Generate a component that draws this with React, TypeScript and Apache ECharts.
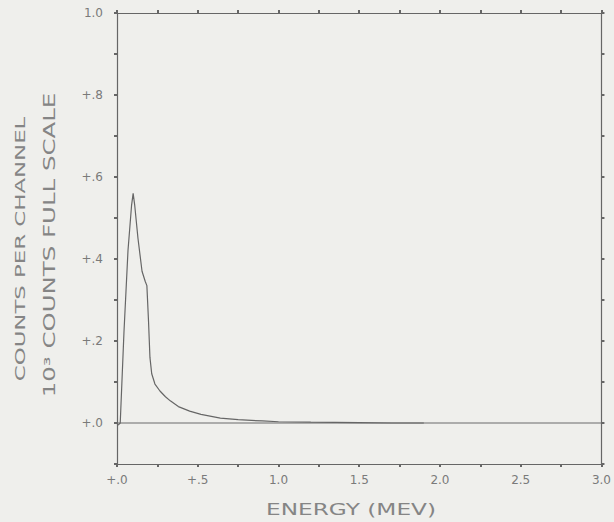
import React, { useEffect, useRef } from "react";
import * as echarts from "echarts";

const energy = [0.0, 0.01, 0.02, 0.043, 0.068, 0.09, 0.1, 0.11, 0.13, 0.155, 0.175, 0.185, 0.195, 0.204, 0.215, 0.235, 0.266, 0.3, 0.33, 0.38, 0.45, 0.52, 0.64, 0.75, 0.9, 1.0, 1.2, 1.5, 1.7, 1.9];
const counts = [-0.005, -0.004, 0.0, 0.22, 0.42, 0.53, 0.56, 0.53, 0.45, 0.37, 0.345, 0.335, 0.25, 0.16, 0.12, 0.095, 0.078, 0.064, 0.054, 0.04, 0.029, 0.021, 0.012, 0.008, 0.005, 0.003, 0.002, 0.001, 0.0, 0.0];
const xLabels = ["+.0", "+.5", "1.0", "1.5", "2.0", "2.5", "3.0"];
const yLabels = ["+.0", "+.2", "+.4", "+.6", "+.8", "1.0"];
const yTitleOuter = "COUNTS PER CHANNEL";
const yTitleInner = "10³ COUNTS FULL SCALE";
const xTitle = "ENERGY (MEV)";

const LINE = "#666";
const TEXT = "#7a7a7a";
const TITLE = "#858585";
const FONT = "'DejaVu Sans', sans-serif";

export default function App() {
  const ref = useRef<HTMLDivElement>(null);
  useEffect(() => {
    if (!ref.current) return;
    const chart = echarts.init(ref.current, undefined, { renderer: "svg" });
    const near = (v: number, t: number) => Math.abs(v - t) < 1e-6;
    const xFmt = (v: number) => {
      for (let i = 0; i < xLabels.length; i++) if (near(v, i * 0.5)) return xLabels[i];
      return "";
    };
    const yFmt = (v: number) => {
      for (let i = 0; i < yLabels.length; i++) if (near(v, i * 0.2)) return yLabels[i];
      return "";
    };
    const tick = { show: true, length: 3, inside: false, lineStyle: { color: LINE, width: 2 } };
    const axisLine = { show: true, onZero: false, lineStyle: { color: LINE, width: 1.2 } };
    chart.setOption({
      animation: false,
      backgroundColor: "#efefec",
      grid: { left: 117, top: 13, right: 12, bottom: 58, containLabel: false },
      xAxis: [
        {
          type: "value", min: 0, max: 3, interval: 0.25, position: "bottom",
          axisLine, axisTick: tick, splitLine: { show: false },
          axisLabel: { formatter: xFmt, color: TEXT, fontSize: 12, fontFamily: FONT, margin: 10 },
        },
        {
          type: "value", min: 0, max: 3, interval: 0.25, position: "top",
          axisLine, axisTick: tick, splitLine: { show: false }, axisLabel: { show: false },
        },
      ],
      yAxis: [
        {
          type: "value", min: -0.1, max: 1.0, interval: 0.1, position: "left",
          axisLine, axisTick: tick, splitLine: { show: false },
          axisLabel: { formatter: yFmt, color: TEXT, fontSize: 12, fontFamily: FONT, margin: 14 },
        },
        {
          type: "value", min: -0.1, max: 1.0, interval: 0.1, position: "right",
          axisLine, axisTick: tick, splitLine: { show: false }, axisLabel: { show: false },
        },
      ],
      series: [
        {
          type: "line", xAxisIndex: 0, yAxisIndex: 0, symbol: "none", silent: true,
          data: [[0, 0], [3, 0]],
          lineStyle: { color: "#6a6a6a", width: 1.2 },
        },
        {
          type: "line", xAxisIndex: 0, yAxisIndex: 0, symbol: "none", silent: true,
          data: energy.map((e, i) => [e, counts[i]]),
          lineStyle: { color: "#666", width: 1.2 },
        },
      ],
      graphic: [
        {
          type: "text", x: 20, y: 249, rotation: Math.PI / 2, scaleX: 1.63,
          style: { text: yTitleOuter, fill: TITLE, font: `14px ${FONT}`, align: "center", verticalAlign: "middle" },
        },
        {
          type: "text", x: 50, y: 245, rotation: Math.PI / 2, scaleX: 1.63,
          style: { text: yTitleInner, fill: TITLE, font: `15px ${FONT}`, align: "center", verticalAlign: "middle" },
        },
        {
          type: "text", x: 351, y: 510, scaleX: 1.55,
          style: { text: xTitle, fill: TITLE, font: `15px ${FONT}`, align: "center", verticalAlign: "middle" },
        },
      ],
    });
    return () => chart.dispose();
  }, []);
  return <div ref={ref} style={{ width: 614, height: 522, position: "absolute", left: 0, top: 0 }} />;
}
